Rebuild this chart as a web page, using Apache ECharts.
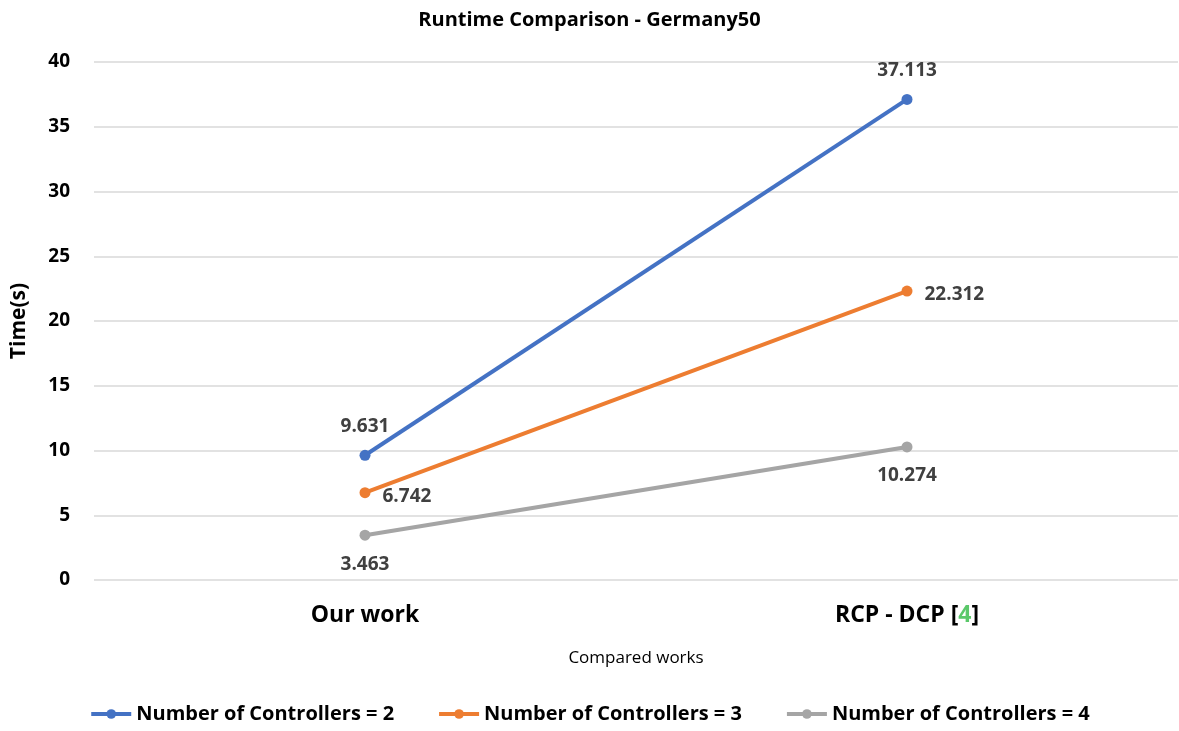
<!DOCTYPE html>
<html>
<head>
<meta charset="utf-8">
<script src="https://cdn.jsdelivr.net/npm/echarts@6/dist/echarts.min.js"></script>
<style>
  html, body { margin: 0; padding: 0; background: #fff; }
  #chart { width: 1179px; height: 731px; }
</style>
</head>
<body>
<div id="chart"></div>
<script>
  // chart data
  const categories = ['Our work', 'RCP - DCP [4]']
  const seriesNames = [
    'Number of Controllers = 2',
    'Number of Controllers = 3',
    'Number of Controllers = 4',
  ]
  const controllers2 = [9.631, 37.113]
  const controllers3 = [6.742, 22.312]
  const controllers4 = [3.463, 10.274]
  const yTicks = [0, 5, 10, 15, 20, 25, 30, 35, 40]

  const colors = ['#4472C4', '#ED7D31', '#A5A5A5']
  const labelPos = ['top', 'right', 'bottom']
  const font = '"Open Sans", "Noto Sans", sans-serif'

  const chart = echarts.init(document.getElementById('chart'))

  const makeSeries = (name, data, i) => ({
    name: name,
    type: 'line',
    data: data,
    symbol: 'circle',
    symbolSize: 11,
    lineStyle: { width: 4, color: colors[i] },
    itemStyle: { color: colors[i] },
    label: {
      show: true,
      position: labelPos[i],
      distance: i === 1 ? 12 : 14,
      offset: i === 1 ? [0, 4] : [0, 0],
      color: '#404040',
      fontSize: 19,
      fontWeight: 'bold',
      fontFamily: font,
    },
    animation: false,
  })

  chart.setOption({
    title: {
      text: 'Runtime Comparison - Germany50',
      left: 'center',
      top: 5,
      textStyle: { fontSize: 20, fontWeight: 'bold', color: '#000', fontFamily: font },
    },
    grid: { left: 94, right: 1, top: 62, bottom: 151 },
    legend: {
      bottom: 2,
      left: 'center',
      itemGap: 43,
      itemWidth: 40,
      itemHeight: 12,
      data: seriesNames,
      lineStyle: { width: 4 },
      textStyle: { fontSize: 20, fontWeight: 'bold', color: '#000', fontFamily: font },
    },
    xAxis: {
      type: 'category',
      data: categories,
      name: 'Compared works',
      nameLocation: 'middle',
      nameGap: 70,
      nameTextStyle: { fontSize: 17, color: '#000', fontFamily: font },
      axisLine: { show: false },
      axisTick: { show: false },
      axisLabel: {
        margin: 24,
        fontSize: 23,
        fontWeight: 'bold',
        color: '#000',
        fontFamily: font,
        formatter: function (v) {
          const m = v.match(/^(.*\[)(\d+)(\].*)$/)
          return m ? '{a|' + m[1] + '}{g|' + m[2] + '}{a|' + m[3] + '}' : '{a|' + v + '}'
        },
        rich: {
          a: { fontSize: 23, fontWeight: 'bold', color: '#000', fontFamily: font },
          g: { fontSize: 23, fontWeight: 'bold', color: '#5BC86A', fontFamily: font },
        },
      },
    },
    yAxis: {
      type: 'value',
      min: yTicks[0],
      max: yTicks[yTicks.length - 1],
      interval: 5,
      name: 'Time(s)',
      nameLocation: 'middle',
      nameGap: 64,
      nameRotate: 90,
      nameTextStyle: { fontSize: 21, fontWeight: 'bold', color: '#000', fontFamily: font },
      axisLine: { show: false },
      axisTick: { show: false },
      axisLabel: { margin: 24, fontSize: 19, fontWeight: 'bold', color: '#000', fontFamily: font },
      splitLine: { lineStyle: { color: '#D9D9D9', width: 1.5 } },
    },
    series: [
      makeSeries(seriesNames[0], controllers2, 0),
      makeSeries(seriesNames[1], controllers3, 1),
      makeSeries(seriesNames[2], controllers4, 2),
    ],
  })
</script>
</body>
</html>
